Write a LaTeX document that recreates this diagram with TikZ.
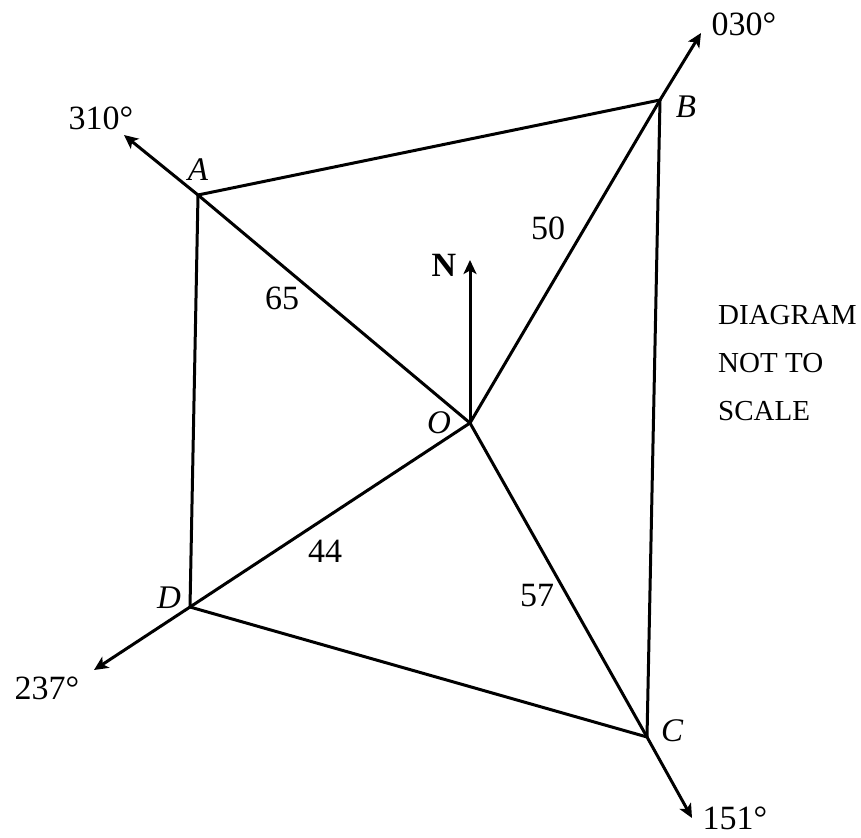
\documentclass[tikz,border=0pt]{standalone}
\usepackage{fontspec}
\setmainfont{Liberation Serif}
\usetikzlibrary{arrows.meta}
\begin{document}
\begin{tikzpicture}[x=1pt,y=-1pt,
  edge/.style={line width=3pt,line cap=round,line join=round},
  ray/.style={line width=3pt,-{Stealth[length=14pt,width=13pt,inset=3.5pt]}},
  lbl/.style={font=\fontsize{34}{38}\selectfont,inner sep=0pt},
  pt/.style={font=\fontsize{33}{38}\selectfont\itshape,inner sep=0pt},
  note/.style={font=\fontsize{29}{48}\selectfont,inner sep=0pt,align=left}]
\useasboundingbox (0,0) rectangle (861,837);
\coordinate (O) at (470,423);
\coordinate (A) at (198,195);
\coordinate (B) at (660,100);
\coordinate (C) at (647,737);
\coordinate (D) at (190,607);
\coordinate (Nt) at (470,260);
\coordinate (At) at (124,135);
\coordinate (Bt) at (701,33);
\coordinate (Ct) at (692,818);
\coordinate (Dt) at (94,670);
\draw[edge] (A) -- (B) -- (C) -- (D) -- cycle;
\draw[edge] (O) -- (A);
\draw[edge] (O) -- (B);
\draw[edge] (O) -- (C);
\draw[edge] (O) -- (D);
\draw[ray] (O) -- (Nt);
\draw[ray] (A) -- (At);
\draw[ray] (B) -- (Bt);
\draw[ray] (C) -- (Ct);
\draw[ray] (D) -- (Dt);
\node[pt] (lA) at (198,170) {A};
\node[pt] (lB) at (686,107) {B};
\node[pt] (lC) at (672,731) {C};
\node[pt] (lD) at (169,598) {D};
\node[pt] (lO) at (439,423) {O};
\node[lbl] (lN) at (444,265) {\textbf{N}};
\node[lbl] (b310) at (101,118) {310°};
\node[lbl] (b030) at (744,24) {030°};
\node[lbl] (b237) at (47,688) {237°};
\node[lbl] (b151) at (735,818) {151°};
\node[lbl] (d65) at (282,298) {65};
\node[lbl] (d50) at (548,228) {50};
\node[lbl] (d44) at (325,551) {44};
\node[lbl] (d57) at (537,596) {57};
\node[note,anchor=north west] (nt) at (718,305) {DIAGRAM\\NOT TO\\SCALE};
\end{tikzpicture}
\end{document}
